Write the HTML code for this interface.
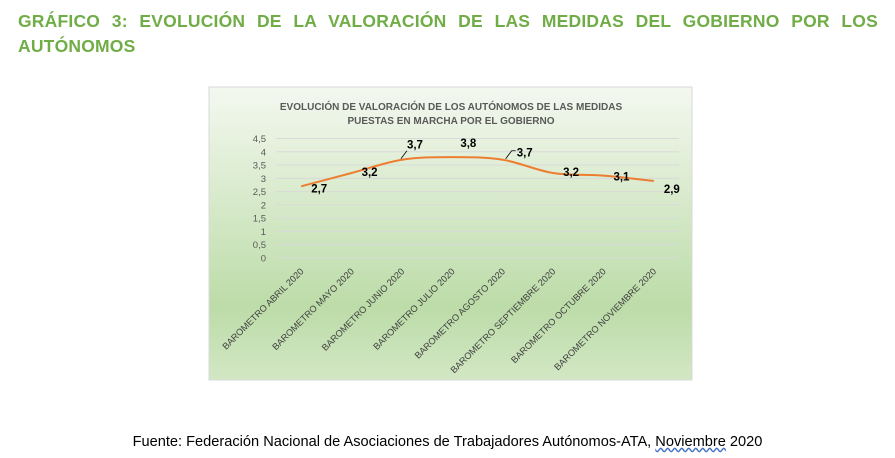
<!DOCTYPE html>
<html><head><meta charset="utf-8"><style>
body{margin:0;width:895px;height:458px;background:#fff;overflow:hidden;position:relative;font-family:"Liberation Sans",sans-serif}
#hdr{position:absolute;left:18px;top:9px;width:860px;color:#70AD47;font-weight:bold;font-size:17.5px;line-height:25px;text-align:justify;text-align-last:left;letter-spacing:0.2px}
#foot{position:absolute;left:0;width:895px;top:434px;text-align:center;font-size:14.6px;color:#000}
</style></head><body>
<div id="hdr">GRÁFICO 3: EVOLUCIÓN DE LA VALORACIÓN DE LAS MEDIDAS DEL GOBIERNO POR LOS AUTÓNOMOS</div>
<svg id="chart" width="895" height="458" style="position:absolute;left:0;top:0">
<defs><linearGradient id="bg" x1="0" y1="0" x2="0" y2="1">
<stop offset="0" stop-color="#f4f8f0"/><stop offset="0.75" stop-color="#bcdca8"/><stop offset="1" stop-color="#d2e7c4"/></linearGradient></defs>
<rect x="209" y="87" width="483" height="293" fill="url(#bg)" stroke="#d9d9d9"/>
<text x="451" y="110" text-anchor="middle" font-size="10" font-weight="bold" fill="#595959">EVOLUCIÓN DE VALORACIÓN DE LOS AUTÓNOMOS DE LAS MEDIDAS</text>
<text x="451" y="124" text-anchor="middle" font-size="10" font-weight="bold" fill="#595959">PUESTAS EN MARCHA POR EL GOBIERNO</text>
<g id="grid"></g><g id="marks"></g>
</svg>
<div id="foot">Fuente: Federación Nacional de Asociaciones de Trabajadores Autónomos-ATA, <span style="text-decoration:underline wavy #4472c4">Noviembre</span> 2020</div>
<script>
const categories=["BAROMETRO ABRIL 2020","BAROMETRO MAYO 2020","BAROMETRO JUNIO 2020","BAROMETRO JULIO 2020","BAROMETRO AGOSTO 2020","BAROMETRO SEPTIEMBRE 2020","BAROMETRO OCTUBRE 2020","BAROMETRO NOVIEMBRE 2020"];
const values=[2.7,3.2,3.7,3.8,3.7,3.2,3.1,2.9];
const valueLabels=["2,7","3,2","3,7","3,8","3,7","3,2","3,1","2,9"];
const yTicks=[0,0.5,1,1.5,2,2.5,3,3.5,4,4.5];
const yTickLabels=["0","0,5","1","1,5","2","2,5","3","3,5","4","4,5"];
const labelOffsets=[[18,6],[18,3],[13,-11],[16,-10],[22,-3],[18,3],[18,5],[18,12]];
const NS="http://www.w3.org/2000/svg";
const X0=276,X1=679,Y0=258,YTOP=138.5;
const xs=i=>X0+(X1-X0)/categories.length*(i+0.5);
const ys=v=>Y0-(Y0-YTOP)*v/4.5;
const grid=document.getElementById('grid'),marks=document.getElementById('marks');
function mk(t,a,p){const e=document.createElementNS(NS,t);for(const k in a)e.setAttribute(k,a[k]);p.appendChild(e);return e;}
yTicks.forEach((v,i)=>{
 const l=mk('line',{x1:X0,x2:X1,y1:ys(v),y2:ys(v),stroke:'#d9d9d9','stroke-width':1},grid);
 
 
 const t=mk('text',{x:266,y:ys(v)+3.5,'text-anchor':'end','font-size':9.5,fill:'#595959'},grid);
 t.textContent=yTickLabels[i];
 
 
});
categories.forEach((c,i)=>{
 const x=xs(i)+3,y=272;
 const t=mk('text',{x:x,y:y,'text-anchor':'end','font-size':9.2,fill:'#404040',transform:`rotate(-45 ${x} ${y})`},grid);
 t.textContent=c;
 
 
});
const P=values.map((v,i)=>[xs(i),ys(v)]);
let d=`M${P[0][0]},${P[0][1]}`;
for(let i=0;i<P.length-1;i++){
 const p0=P[Math.max(0,i-1)],p1=P[i],p2=P[i+1],p3=P[Math.min(P.length-1,i+2)];
 const k=1/6;
 d+=` C${p1[0]+(p2[0]-p0[0])*k},${p1[1]+(p2[1]-p0[1])*k} ${p2[0]-(p3[0]-p1[0])*k},${p2[1]-(p3[1]-p1[1])*k} ${p2[0]},${p2[1]}`;
}
const path=mk('path',{d:d,fill:'none',stroke:'#ED7D31','stroke-width':2},marks);


values.forEach((v,i)=>{
 const [dx,dy]=labelOffsets[i];
 const x=xs(i)+dx,y=ys(v)+dy;
 if(i===2||i===4){
  const ld=mk('path',{d:i===2?`M${xs(i)-1},${ys(v)-1} L${x-8},${y+2}`:`M${xs(i)+3},${ys(v)-1} L${x-13},${y-6} L${x-9},${y-6}`,fill:'none',stroke:'#000','stroke-width':0.8},marks);
  
  
 }
 const t=mk('text',{x:x,y:y,'text-anchor':'middle','font-size':11.5,'font-weight':'bold',fill:'#000'},marks);
 t.textContent=valueLabels[i];
 
 
});
</script>
</body></html>
